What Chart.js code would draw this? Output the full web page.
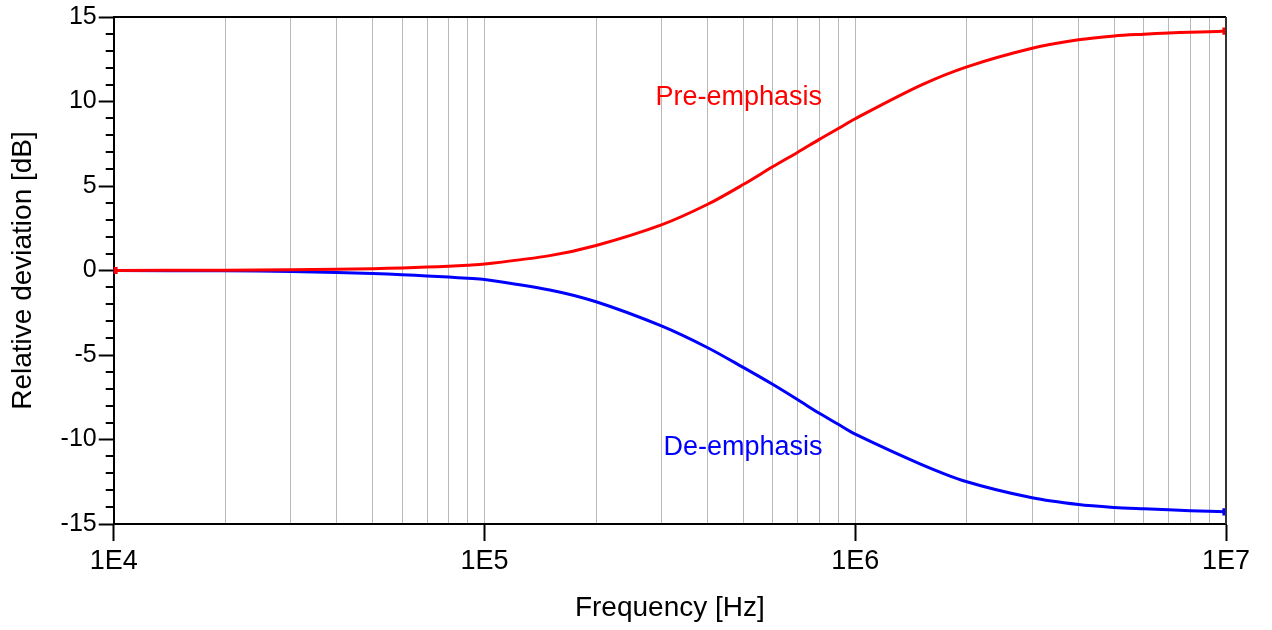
<!DOCTYPE html>
<html>
<head>
<meta charset="utf-8">
<script src="https://cdn.jsdelivr.net/npm/chart.js@4"></script>
<style>
  html, body { margin: 0; padding: 0; background: #fff; }
  #wrap { width: 1272px; height: 630px; }
</style>
</head>
<body>
<div id="wrap"><canvas id="myChart"></canvas></div>
<script>
// values
const freqs = [1e4, 2e4, 3e4, 4e4, 5e4, 6e4, 7e4, 8e4, 9e4, 1e5, 1.5e5, 2e5, 3e5, 4e5, 5e5, 6e5, 7e5, 8e5, 9e5, 1e6, 1.5e6, 2e6, 3e6, 4e6, 5e6, 6e6, 7e6, 8e6, 9e6, 1e7]
const preEmphasis = [0.0, 0.02, 0.04, 0.07, 0.11, 0.15, 0.2, 0.25, 0.31, 0.38, 0.88, 1.48, 2.7, 3.92, 5.1, 6.15, 7.0, 7.76, 8.4, 8.98, 10.95, 12.05, 13.15, 13.65, 13.88, 13.98, 14.05, 14.1, 14.13, 14.17]
const deEmphasis = [0.0, -0.02, -0.06, -0.12, -0.18, -0.25, -0.32, -0.39, -0.46, -0.53, -1.15, -1.85, -3.28, -4.57, -5.75, -6.75, -7.65, -8.45, -9.1, -9.68, -11.45, -12.5, -13.45, -13.85, -14.02, -14.1, -14.16, -14.21, -14.25, -14.28]

const decades = [1e4, 1e5, 1e6, 1e7]
const decadeLabels = ['1E4', '1E5', '1E6', '1E7']
const yMajor = [-15, -10, -5, 0, 5, 10, 15]

const curveNames = ['Pre-emphasis', 'De-emphasis']
const curveColors = ['#ff0000', '#0000ff']
const nameFreqs = [4.85e5, 4.98e5]
const nameLevels = [10.25, -10.45]

const FONT = "'Liberation Sans', Arial, sans-serif"

// grid lines at 1..9 x every decade
let gridValues = []
for (let d = 0; d < decades.length - 1; d++) {
  for (let m = 1; m < 10; m++) gridValues.push(decades[d] * m)
}
gridValues.push(decades[decades.length - 1])

function isDecade (v) {
  return decades.some(d => Math.abs(v - d) < d * 1e-6)
}

const framePlugin = {
  id: 'frame',
  afterDraw (chart) {
    const ctx = chart.ctx
    const a = chart.chartArea
    const ys = chart.scales.y
    const xs = chart.scales.x
    ctx.save()
    // minor y ticks
    ctx.strokeStyle = '#000'
    ctx.lineWidth = 2
    for (let v = -15; v <= 15; v++) {
      if (yMajor.includes(v)) continue
      const py = Math.round(ys.getPixelForValue(v))
      ctx.beginPath()
      ctx.moveTo(a.left - 8, py)
      ctx.lineTo(a.left, py)
      ctx.stroke()
    }
    // top and right border
    ctx.beginPath()
    ctx.moveTo(a.left, a.top)
    ctx.lineTo(a.right, a.top)
    ctx.stroke()
    ctx.strokeStyle = '#333'
    ctx.beginPath()
    ctx.moveTo(a.right, a.top)
    ctx.lineTo(a.right, a.bottom)
    ctx.stroke()
    // curve names
    ctx.font = '27px ' + FONT
    ctx.textAlign = 'center'
    ctx.textBaseline = 'middle'
    curveNames.forEach((n, i) => {
      ctx.fillStyle = curveColors[i]
      ctx.fillText(n, xs.getPixelForValue(nameFreqs[i]), ys.getPixelForValue(nameLevels[i]))
    })
    ctx.restore()
  }
}

function endPoint (ctx) {
  return (ctx.dataIndex === 0 || ctx.dataIndex === freqs.length - 1) ? 3 : 0
}

const data = {
  datasets: [
    {
      label: curveNames[0],
      data: freqs.map((f, i) => ({ x: f, y: preEmphasis[i] })),
      borderColor: curveColors[0],
      backgroundColor: curveColors[0],
      borderWidth: 3,
      tension: 0.3,
      pointStyle: 'rect',
      pointRadius: endPoint
    },
    {
      label: curveNames[1],
      data: freqs.map((f, i) => ({ x: f, y: deEmphasis[i] })),
      borderColor: curveColors[1],
      backgroundColor: curveColors[1],
      borderWidth: 3,
      tension: 0.3,
      pointStyle: 'rect',
      pointRadius: endPoint
    }
  ]
}

const config = {
  type: 'line',
  data: data,
  plugins: [framePlugin],
  options: {
    responsive: true,
    maintainAspectRatio: false,
    animation: false,
    layout: { padding: { left: 6, right: 46, top: 4, bottom: 0 } },
    plugins: {
      legend: { display: false },
      tooltip: { enabled: false }
    },
    scales: {
      x: {
        type: 'logarithmic',
        min: 1e4,
        max: 1e7,
        afterBuildTicks: scale => { scale.ticks = gridValues.map(v => ({ value: v })) },
        ticks: {
          autoSkip: false,
          maxRotation: 0,
          color: '#000',
          padding: 4,
          font: { family: FONT, size: 27 },
          callback: v => {
            const i = decades.findIndex(d => Math.abs(v - d) < d * 1e-6)
            return i >= 0 ? decadeLabels[i] : ''
          }
        },
        grid: {
          color: '#b8b8b8',
          lineWidth: 1,
          tickLength: 17,
          tickWidth: 2,
          tickColor: ctx => (ctx.tick && isDecade(ctx.tick.value)) ? '#000' : 'rgba(0,0,0,0)'
        },
        border: { color: '#000', width: 2 },
        title: {
          display: true,
          text: 'Frequency [Hz]',
          color: '#000',
          font: { family: FONT, size: 28 },
          padding: { top: 10, bottom: 5 }
        }
      },
      y: {
        min: -15,
        max: 15,
        ticks: {
          stepSize: 1,
          autoSkip: false,
          color: '#000',
          padding: 2,
          font: { family: FONT, size: 25 },
          callback: v => (yMajor.includes(v) ? v : '')
        },
        grid: {
          drawOnChartArea: false,
          tickLength: 15,
          tickWidth: 2,
          tickColor: ctx => (ctx.tick && yMajor.includes(ctx.tick.value)) ? '#000' : 'rgba(0,0,0,0)'
        },
        border: { color: '#000', width: 2 },
        title: {
          display: true,
          text: 'Relative deviation [dB]',
          color: '#000',
          font: { family: FONT, size: 28 },
          padding: { top: 0, bottom: 19 }
        }
      }
    }
  }
}

var myChart = new Chart(document.getElementById('myChart'), config)
</script>
</body>
</html>
